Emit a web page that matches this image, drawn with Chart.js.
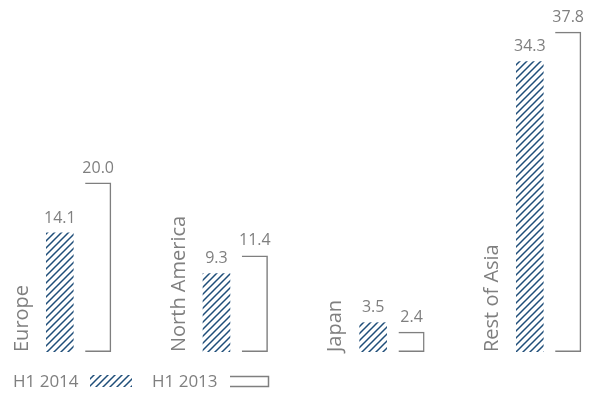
<!DOCTYPE html>
<html>
<head>
<meta charset="utf-8">
<script src="https://cdn.jsdelivr.net/npm/chart.js@4/dist/chart.umd.min.js"></script>
<style>
  html, body { margin: 0; padding: 0; background: #ffffff; }
  #wrap { width: 597px; height: 397px; position: relative; }
</style>
</head>
<body>
<div id="wrap"><canvas id="c"></canvas></div>
<script>
// Sales by region, first half of the year
const regions = ['Europe', 'North America', 'Japan', 'Rest of Asia'];
const h1_2014 = [14.1, 9.3, 3.5, 34.3];
const h1_2013 = [20.0, 11.4, 2.4, 37.8];
const seriesNames = ['H1 2014', 'H1 2013'];

const NAVY = '#1f4e79';
const GREY = '#7f7f7f';
const FONT = '"Open Sans", "Noto Sans", sans-serif';

// Diagonal "/" hatch used for the current-year bars
function makeHatch() {
  const s = 7;
  const tile = document.createElement('canvas');
  tile.width = s; tile.height = s;
  const t = tile.getContext('2d');
  t.strokeStyle = NAVY;
  t.lineWidth = 1.5;
  t.beginPath();
  t.moveTo(0, s); t.lineTo(s, 0);
  t.moveTo(-1, 1); t.lineTo(1, -1);
  t.moveTo(s - 1, s + 1); t.lineTo(s + 1, s - 1);
  t.stroke();
  return t.createPattern(tile, 'repeat');
}
const ctx = document.getElementById('c').getContext('2d');
const hatch = makeHatch();

// Value labels above bars, rotated region names, and the legend row
const annotate = {
  id: 'annotate',
  afterDatasetsDraw(chart) {
    const c = chart.ctx;
    const yScale = chart.scales.y;
    const base = yScale.getPixelForValue(0);
    c.save();
    c.fillStyle = GREY;

    // values
    c.font = '16px ' + FONT;
    c.textAlign = 'center';
    c.textBaseline = 'alphabetic';
    chart.data.datasets.forEach((ds, di) => {
      chart.getDatasetMeta(di).data.forEach((bar, i) => {
        c.fillText(ds.data[i].toFixed(1), bar.x, bar.y - 10);
      });
    });

    // region names, reading upward from the baseline
    c.font = '20px ' + FONT;
    c.textAlign = 'left';
    chart.getDatasetMeta(0).data.forEach((bar, i) => {
      const x = bar.x - bar.width / 2 - 18;
      c.save();
      c.translate(x, base);
      c.rotate(-Math.PI / 2);
      c.fillText(chart.data.labels[i], 0, 0);
      c.restore();
    });

    // legend
    const ly = 387;
    c.font = '17px ' + FONT;
    c.textAlign = 'left';
    c.fillText(seriesNames[0], 13, ly);
    c.fillStyle = hatch;
    c.fillRect(90, 375, 42, 12);
    c.fillStyle = GREY;
    c.fillText(seriesNames[1], 152, ly);
    c.strokeStyle = GREY;
    c.lineWidth = 1.5;
    c.beginPath();
    c.moveTo(230, 376.5);
    c.lineTo(268.5, 376.5);
    c.lineTo(268.5, 386.5);
    c.lineTo(230, 386.5);
    c.stroke();
    c.restore();
  }
};

new Chart(ctx, {
  type: 'bar',
  data: {
    labels: regions,
    datasets: [
      {
        label: seriesNames[0],
        data: h1_2014,
        backgroundColor: hatch,
        borderWidth: 0,
        barPercentage: 0.72,
        categoryPercentage: 0.49,
        clip: false
      },
      {
        label: seriesNames[1],
        data: h1_2013,
        backgroundColor: 'rgba(0,0,0,0)',
        borderColor: GREY,
        borderWidth: 1.5,
        borderSkipped: 'left',
        barPercentage: 0.68,
        categoryPercentage: 0.49,
        clip: false
      }
    ]
  },
  options: {
    responsive: true,
    maintainAspectRatio: false,
    animation: false,
    devicePixelRatio: 1,
    layout: { padding: { left: 79, right: 48, top: 13, bottom: 45 } },
    scales: {
      x: { type: 'category', offset: false, display: false },
      y: { min: 0, max: 40, display: false }
    },
    plugins: {
      legend: { display: false },
      tooltip: { enabled: false }
    }
  },
  plugins: [annotate]
});
</script>
</body>
</html>
